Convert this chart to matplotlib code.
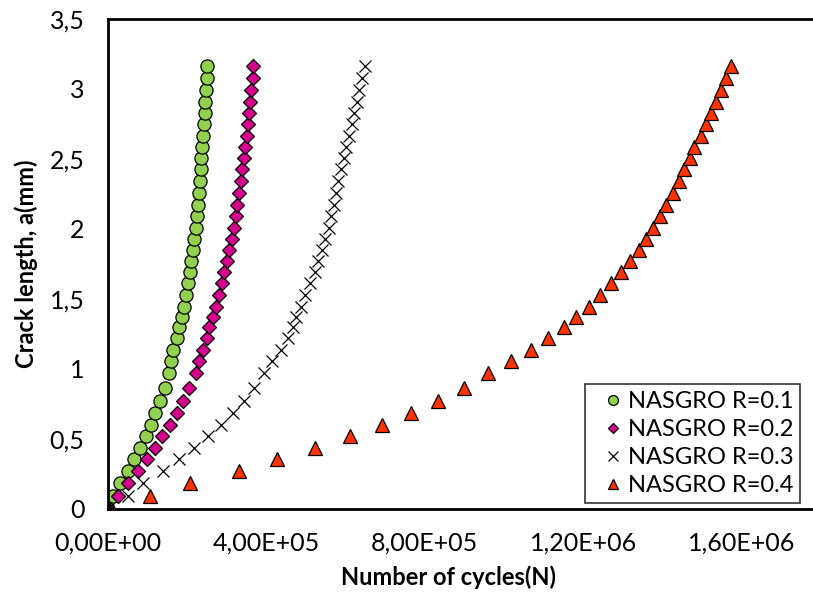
import numpy as np
import matplotlib.pyplot as plt

# crack length (mm) at each output step
crack_len = [0.0, 0.094, 0.184, 0.27, 0.356, 0.437, 0.519, 0.60, 0.684, 0.768,
             0.863, 0.970, 1.055, 1.137, 1.218, 1.298, 1.374, 1.445, 1.529, 1.612,
             1.691, 1.771, 1.85, 1.929, 2.009, 2.095, 2.171, 2.255, 2.345, 2.426,
             2.505, 2.588, 2.664, 2.748, 2.831, 2.909, 2.993, 3.076, 3.164]

# number of cycles for each stress ratio
cycles_r01 = [0, 1.2e4, 3.0e4, 5.1e4, 6.6e4, 8.2e4, 9.6e4, 1.08e5, 1.19e5, 1.31e5,
              1.44e5, 1.53e5, 1.59e5, 1.65e5, 1.73e5, 1.80e5, 1.86e5, 1.92e5, 1.97e5, 2.02e5,
              2.06e5, 2.10e5, 2.14e5, 2.18e5, 2.21e5, 2.24e5, 2.27e5, 2.29e5, 2.32e5, 2.34e5,
              2.36e5, 2.38e5, 2.40e5, 2.42e5, 2.44e5, 2.46e5, 2.47e5, 2.49e5, 2.51e5]
cycles_r02 = [0, 2.6e4, 5.0e4, 7.5e4, 9.8e4, 1.19e5, 1.37e5, 1.56e5, 1.75e5, 1.90e5,
              2.04e5, 2.21e5, 2.30e5, 2.40e5, 2.49e5, 2.56e5, 2.65e5, 2.73e5, 2.81e5, 2.88e5,
              2.94e5, 3.00e5, 3.06e5, 3.12e5, 3.17e5, 3.22e5, 3.27e5, 3.31e5, 3.35e5, 3.39e5,
              3.43e5, 3.47e5, 3.50e5, 3.53e5, 3.56e5, 3.59e5, 3.62e5, 3.65e5, 3.67e5]
cycles_r03 = [0, 5.1e4, 8.9e4, 1.40e5, 1.79e5, 2.18e5, 2.52e5, 2.85e5, 3.15e5, 3.43e5,
              3.69e5, 3.94e5, 4.15e5, 4.36e5, 4.55e5, 4.66e5, 4.76e5, 4.87e5, 4.98e5, 5.10e5,
              5.22e5, 5.31e5, 5.40e5, 5.49e5, 5.57e5, 5.64e5, 5.70e5, 5.76e5, 5.82e5, 5.88e5,
              5.95e5, 6.02e5, 6.08e5, 6.15e5, 6.22e5, 6.28e5, 6.35e5, 6.42e5, 6.49e5]
cycles_r04 = [0, 1.06e5, 2.07e5, 3.30e5, 4.27e5, 5.23e5, 6.11e5, 6.91e5, 7.66e5, 8.34e5,
              8.99e5, 9.60e5, 1.017e6, 1.068e6, 1.111e6, 1.151e6, 1.183e6, 1.215e6, 1.243e6, 1.270e6,
              1.295e6, 1.317e6, 1.340e6, 1.359e6, 1.376e6, 1.393e6, 1.410e6, 1.427e6, 1.441e6, 1.455e6,
              1.469e6, 1.481e6, 1.497e6, 1.509e6, 1.522e6, 1.536e6, 1.549e6, 1.561e6, 1.574e6]

x_ticks = [0, 4e5, 8e5, 1.2e6, 1.6e6]
x_tick_labels = ["0,00E+00", "4,00E+05", "8,00E+05", "1,20E+06", "1,60E+06"]
y_ticks = [0, 0.5, 1, 1.5, 2, 2.5, 3, 3.5]
y_tick_labels = ["0", "0,5", "1", "1,5", "2", "2,5", "3", "3,5"]

plt.rcParams["font.family"] = ["Lato", "DejaVu Sans"]

fig = plt.figure(figsize=(8.13, 5.94), dpi=100)
# plot area runs past the right edge of the figure
ax = fig.add_axes([108 / 813, 85 / 594, 792 / 813, 490 / 594])

ax.plot(cycles_r01, crack_len, ls="none", marker="o", ms=9.5, mfc="#92D050",
        mec="black", mew=0.9, label="NASGRO R=0.1")
ax.plot(cycles_r02, crack_len, ls="none", marker="D", ms=7, mfc="#D6008F",
        mec="black", mew=0.9, label="NASGRO R=0.2")
ax.plot(cycles_r03, crack_len, ls="none", marker="x", ms=9, mec="black",
        mew=0.9, label="NASGRO R=0.3")
ax.plot(cycles_r04, crack_len, ls="none", marker="^", ms=9.5, mfc="#FF3300",
        mec="black", mew=0.9, label="NASGRO R=0.4")

ax.set_xlim(0, 2e6)
ax.set_ylim(0, 3.5)
ax.set_xticks(x_ticks, x_tick_labels)
ax.set_yticks(y_ticks, y_tick_labels)
ax.tick_params(length=0, labelsize=18)
ax.tick_params(axis="x", pad=16)
ax.tick_params(axis="y", pad=17)
for side in ["left", "bottom", "top"]:
    ax.spines[side].set_linewidth(2)
ax.spines["right"].set_visible(False)

ax.set_xlabel("Number of cycles(N)", fontsize=17, fontweight="bold")
ax.xaxis.set_label_coords((448 - 108) / 792, -0.115)
ax.set_ylabel("Crack length, a(mm)", fontsize=17, fontweight="bold")
ax.yaxis.set_label_coords(-0.088, 0.5)

leg = ax.legend(loc="lower left", bbox_to_anchor=((585 - 108) / 792, 6 / 490),
                fontsize=17, frameon=True, fancybox=False, edgecolor="black",
                handletextpad=-0.3, handlelength=1.8, borderpad=0.3,
                labelspacing=0.29, markerscale=0.75, borderaxespad=0)
leg.get_frame().set_linewidth(1.2)

fig.savefig("out.png", dpi=100)
